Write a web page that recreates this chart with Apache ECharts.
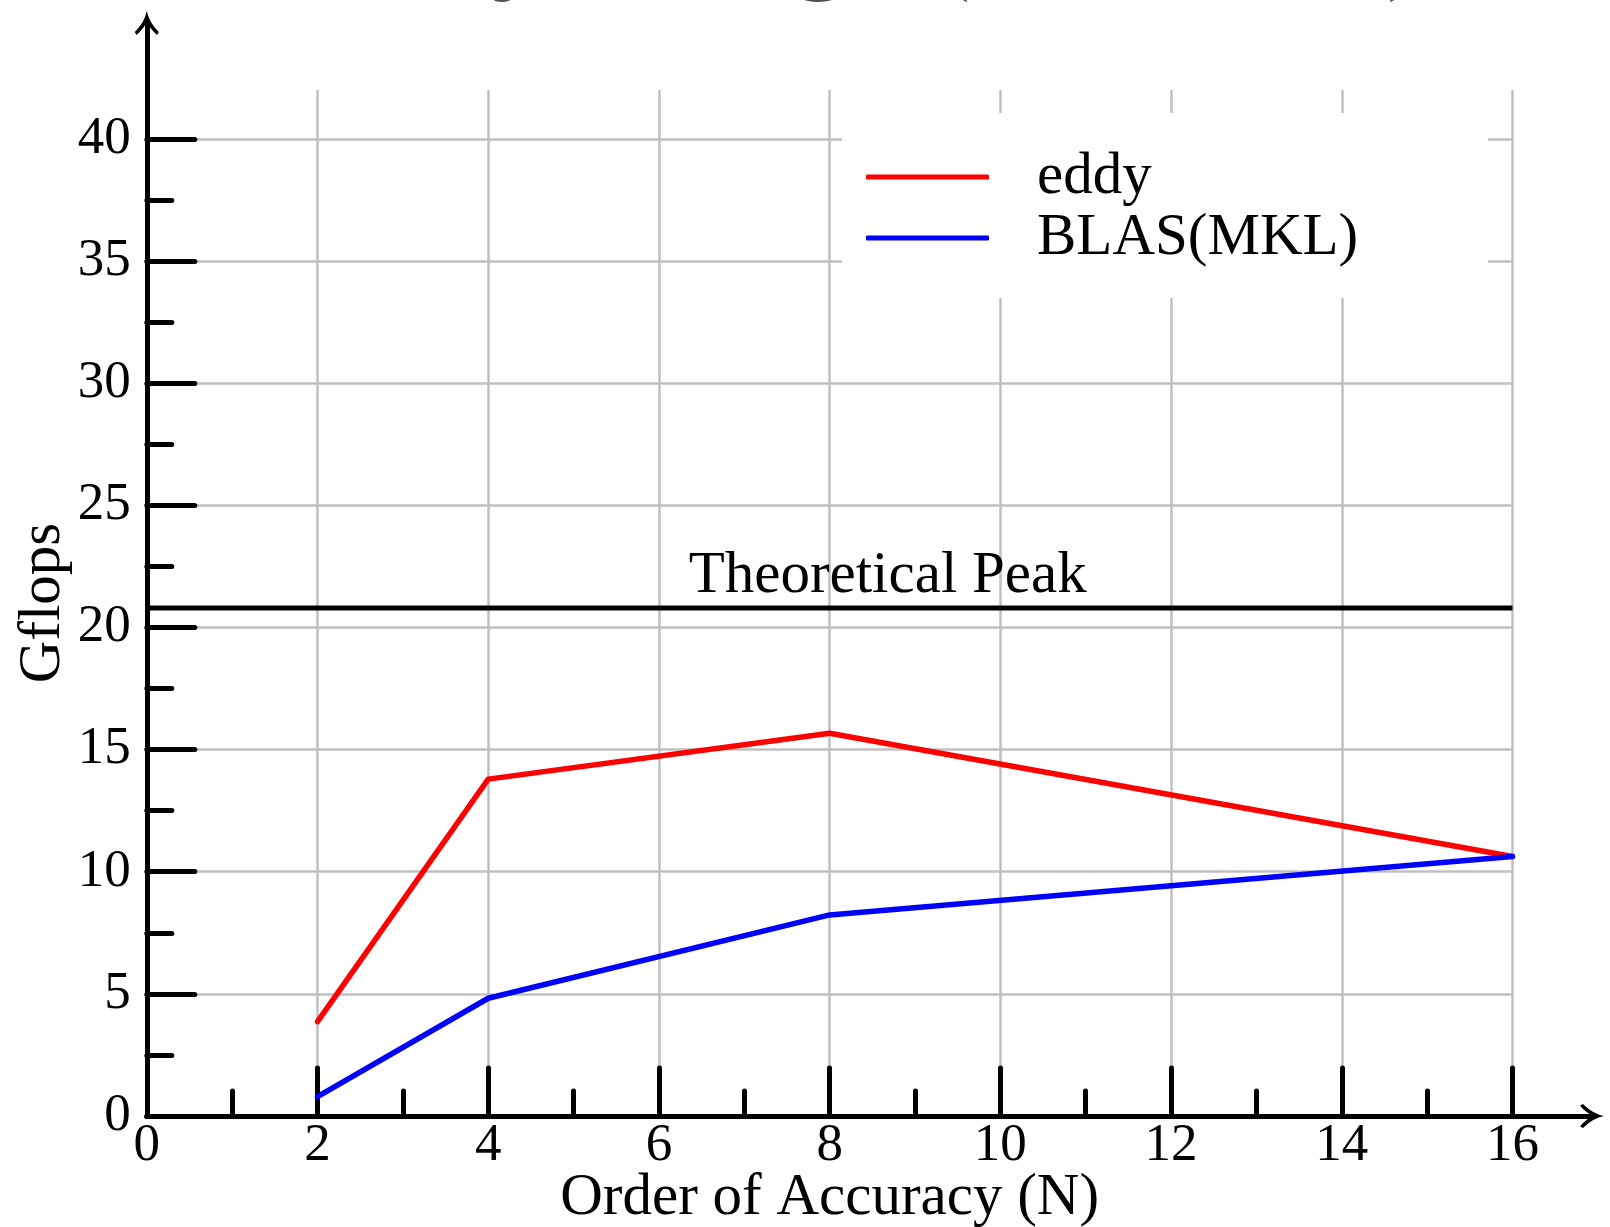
<!DOCTYPE html>
<html>
<head>
<meta charset="utf-8">
<script src="https://cdn.jsdelivr.net/npm/echarts@6/dist/echarts.min.js"></script>
<style>
html,body{margin:0;padding:0;background:#fff;}
#chart{width:1610px;height:1227px;}
</style>
</head>
<body>
<div id="chart"></div>
<script>
// ---- data ----
const orders = [2, 4, 8, 16];
const eddy = [3.86, 13.79, 15.67, 10.62];
const blas = [0.79, 4.82, 8.23, 10.62];
const peakValue = 20.8;
const peakRange = [0, 16];
const peakLabelX = 8.68;
const peakLabel = 'Theoretical Peak';
const seriesNames = ['eddy', 'BLAS(MKL)'];
const yMajorTicks = [0, 5, 10, 15, 20, 25, 30, 35, 40];
const yMinorTicks = [2.5, 7.5, 12.5, 17.5, 22.5, 27.5, 32.5, 37.5];
const xLabel = 'Order of Accuracy (N)';
const yLabel = 'Gflops';
const titleText = 'Sandy Bridge (Xeon E5)';

const FONT = 'Liberation Serif';
const FS = 53;
const FS2 = 59;
const arrowPath = 'path://M50,0 Q58,45 100,88 L93,100 Q60,72 50,42 Q40,72 7,100 L0,88 Q42,45 50,0 Z';

const chart = echarts.init(document.getElementById('chart'), null, {renderer: 'canvas'});
const tickStyle = {color: '#000', width: 5, cap: 'round'};

const option = {
  backgroundColor: '#fff',
  animation: false,
  title: {
    text: titleText,
    left: 256, top: -119, padding: 0,
    textStyle: {fontFamily: FONT, fontSize: 118, fontWeight: 'normal', color: '#505050', lineHeight: 130}
  },
  grid: [
    {left: 146.8, right: 97.5, top: 90, bottom: 111, containLabel: false, outerBoundsMode: 'none'},
    {left: 146.8, right: 18, top: 23, bottom: 111, containLabel: false, outerBoundsMode: 'none'}
  ],
  legend: {
    orient: 'vertical',
    left: 842, top: 113,
    padding: [34, 130, 30, 24],
    backgroundColor: '#fff',
    itemWidth: 123, itemHeight: 5,
    itemGap: 1,
    icon: 'roundRect',
    textStyle: {fontFamily: FONT, fontSize: FS2, color: '#000', lineHeight: 60, padding: [0, 0, 0, 43]},
    data: seriesNames
  },
  xAxis: [
    {
      type: 'value', gridIndex: 0, min: 0, max: 16, interval: 2,
      axisLine: {show: false, onZero: false},
      axisTick: {show: true, inside: true, length: 48, lineStyle: tickStyle},
      minorTick: {show: true, splitNumber: 2, length: 25, lineStyle: tickStyle},
      axisLabel: {fontFamily: FONT, fontSize: FS, color: '#000', margin: 4, lineHeight: 53},
      splitLine: {show: true, lineStyle: {color: '#c0c0c0', width: 2.5}},
      name: xLabel, nameLocation: 'middle', nameGap: 53, nameMoveOverlap: false,
      nameTextStyle: {fontFamily: FONT, fontSize: FS2, color: '#000', lineHeight: 59}
    },
    {
      type: 'value', gridIndex: 1, min: 0, max: 1,
      axisLine: {show: true, onZero: false, symbol: ['none', arrowPath], symbolSize: [24, 32], lineStyle: {color: '#000', width: 5}},
      axisTick: {show: false}, axisLabel: {show: false}, splitLine: {show: false}
    }
  ],
  yAxis: [
    {
      type: 'value', gridIndex: 0, min: 0, max: 42, interval: 1,
      axisLine: {show: false, onZero: false},
      axisTick: {show: true, inside: true, length: 48, lineStyle: tickStyle, customValues: yMajorTicks},
      axisLabel: {fontFamily: FONT, fontSize: FS, color: '#000', margin: 16, customValues: yMajorTicks},
      splitLine: {show: true, lineStyle: {color: '#c0c0c0', width: 2.5}},
      name: yLabel, nameLocation: 'middle', nameGap: 74, nameMoveOverlap: false,
      nameTextStyle: {fontFamily: FONT, fontSize: FS2, color: '#000', lineHeight: 59}
    },
    {
      type: 'value', gridIndex: 0, min: 0, max: 42, position: 'left',
      axisLine: {show: false, onZero: false},
      axisTick: {show: true, inside: true, length: 25, lineStyle: tickStyle, customValues: yMinorTicks},
      axisLabel: {show: false}, splitLine: {show: false}
    },
    {
      type: 'value', gridIndex: 1, min: 0, max: 1,
      axisLine: {show: true, onZero: false, symbol: ['none', arrowPath], symbolSize: [24, 32], lineStyle: {color: '#000', width: 5}},
      axisTick: {show: false}, axisLabel: {show: false}, splitLine: {show: false}
    }
  ],
  series: [
    {
      name: seriesNames[0], type: 'line', xAxisIndex: 0, yAxisIndex: 0,
      data: orders.map((x, i) => [x, eddy[i]]),
      showSymbol: false, symbol: 'none',
      itemStyle: {color: '#ff0000'},
      lineStyle: {color: '#ff0000', width: 5.5, cap: 'round', join: 'round'},
      z: 5
    },
    {
      name: seriesNames[1], type: 'line', xAxisIndex: 0, yAxisIndex: 0,
      data: orders.map((x, i) => [x, blas[i]]),
      showSymbol: false, symbol: 'none',
      itemStyle: {color: '#0000ff'},
      lineStyle: {color: '#0000ff', width: 5.5, cap: 'round', join: 'round'},
      z: 5
    },
    {
      name: 'peak', type: 'line', xAxisIndex: 0, yAxisIndex: 0,
      data: peakRange.map(x => [x, peakValue]),
      showSymbol: false, symbol: 'none',
      lineStyle: {color: '#000', width: 5},
      z: 4,
      markPoint: {
        symbol: 'circle', symbolSize: 0,
        label: {show: true, position: 'top', distance: 2, formatter: peakLabel,
          fontFamily: FONT, fontSize: FS2, color: '#000'},
        data: [{coord: [peakLabelX, peakValue]}]
      }
    }
  ]
};
chart.setOption(option);
</script>
</body>
</html>
